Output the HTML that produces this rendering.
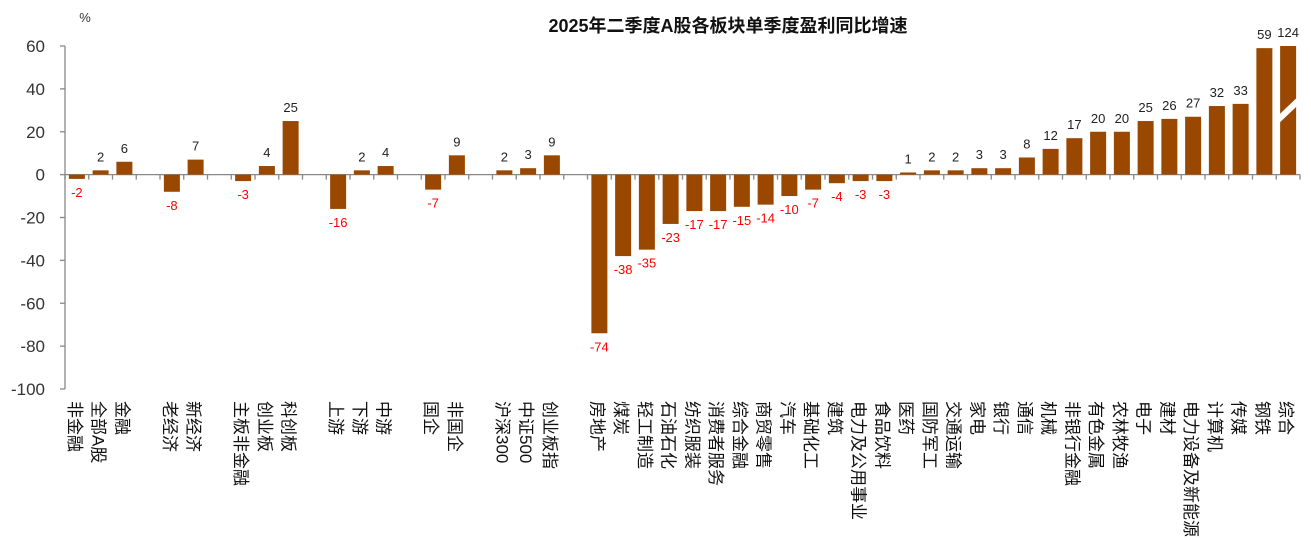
<!DOCTYPE html>
<html><head><meta charset="utf-8"><style>
body{margin:0;background:#fff;}
svg{display:block;font-family:"Liberation Sans","Noto Sans CJK SC",sans-serif;}
</style></head><body>
<svg id="chart" width="1311" height="540" viewBox="0 0 1311 540">
<text x="728" y="32" text-anchor="middle" font-size="18" font-weight="bold" fill="#111">2025年二季度A股各板块单季度盈利同比增速</text>
<text x="85" y="22" text-anchor="middle" font-size="13" fill="#333">%</text>
<g id="axes"></g><g id="bars"></g><g id="labels"></g>
</svg>
<script>
const categories=["非金融","全部A股","金融","","老经济","新经济","","主板非金融","创业板","科创板","","上游","下游","中游","","国企","非国企","","沪深300","中证500","创业板指","","房地产","煤炭","轻工制造","石油石化","纺织服装","消费者服务","综合金融","商贸零售","汽车","基础化工","建筑","电力及公用事业","食品饮料","医药","国防军工","交通运输","家电","银行","通信","机械","非银行金融","有色金属","农林牧渔","电子","建材","电力设备及新能源","计算机","传媒","钢铁","综合"];
const values=[-2,2,6,null,-8,7,null,-3,4,25,null,-16,2,4,null,-7,9,null,2,3,9,null,-74,-38,-35,-23,-17,-17,-15,-14,-10,-7,-4,-3,-3,1,2,2,3,3,8,12,17,20,20,25,26,27,32,33,59,124];
const yTicks=[60,40,20,0,-20,-40,-60,-80,-100];
const yMax=60,yMin=-100;
const NS="http://www.w3.org/2000/svg";
const x0=65,slot=23.75,yTop=46,yBot=389;
const y=v=>yTop+(yMax-v)/(yMax-yMin)*(yBot-yTop);
const xc=i=>x0+(i+0.5)*slot;
function mk(tag,attrs,parent,text){const e=document.createElementNS(NS,tag);for(const k in attrs)e.setAttribute(k,attrs[k]);if(text!==undefined)e.textContent=text;document.getElementById(parent).appendChild(e);return e;}
let ax=mk("line",{x1:x0,x2:x0,y1:yTop,y2:yBot,stroke:"#888","stroke-width":1.3},"axes");


yTicks.forEach(t=>{
 let tk=mk("line",{x1:x0-5,x2:x0,y1:y(t),y2:y(t),stroke:"#888","stroke-width":1.3},"axes");
 
 
 let tl=mk("text",{x:x0-20,y:y(t)+6,"text-anchor":"end","font-size":17,fill:"#333"},"axes",String(t));
 
 
});
let zl=mk("line",{x1:x0,x2:x0+categories.length*slot,y1:y(0),y2:y(0),stroke:"#888","stroke-width":1.3},"axes");


for(let i=0;i<=categories.length;i++){
 let tk=mk("line",{x1:x0+i*slot,x2:x0+i*slot,y1:y(0),y2:y(0)+5,stroke:"#888","stroke-width":1.3},"axes");
 
 
}
const bw=16;
categories.forEach((c,i)=>{
 const v=values[i];
 if(c===""||v===null)return;
 const vv=Math.min(v,yMax);
 const y1=y(Math.max(vv,0)),y2=y(Math.min(vv,0));
 let r=mk("rect",{x:xc(i)-bw/2,y:y1,width:bw,height:Math.max(y2-y1,1),fill:"#9a4800"},"bars");
 
 
 if(v>yMax){
  let br=mk("polygon",{points:`${xc(i)-bw/2-1},${y(24)} ${xc(i)+bw/2+1},${y(32)} ${xc(i)+bw/2+1},${y(36)} ${xc(i)-bw/2-1},${y(28)}`,fill:"#fff"},"bars");
  
  
 }
 const ly=v>=0?y(vv)-9:y(vv)+18;
 let vl=mk("text",{x:xc(i),y:ly,"text-anchor":"middle","font-size":13,fill:v>=0?"#222":"#ff0000"},"labels",String(v));
 
 
 const lx=xc(i)-2;
 let cl=mk("text",{x:lx,y:401,"text-anchor":"start","font-size":17,fill:"#111",transform:`rotate(90 ${lx} 401)`,dy:"0.35em"},"labels",c);
 
 
});
</script>
</body></html>
